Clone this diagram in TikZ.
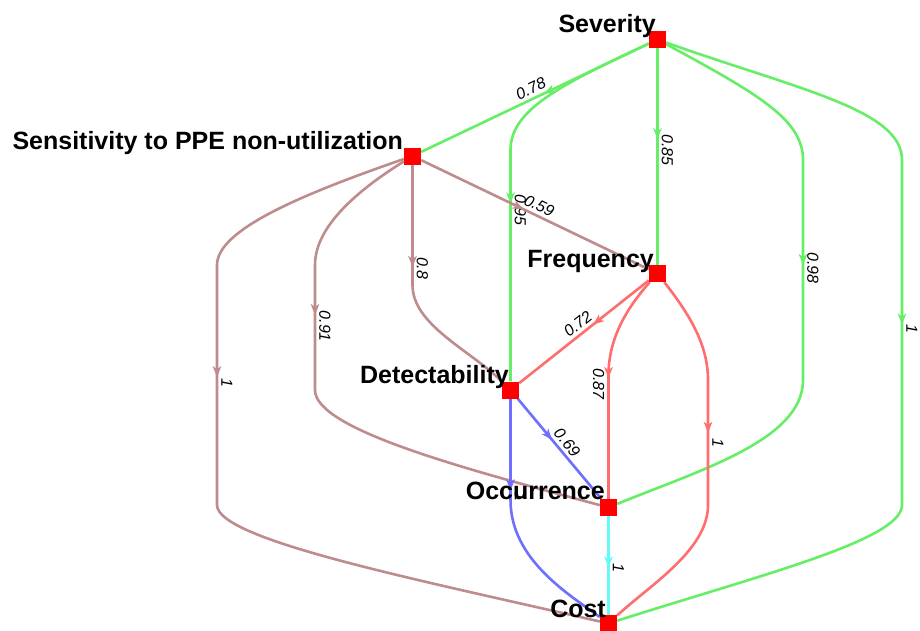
\documentclass[tikz,border=0pt]{standalone}
\usepackage{fontspec}
\setmainfont{Liberation Sans}
\usetikzlibrary{arrows.meta,decorations.markings,backgrounds}
\definecolor{egreen}{RGB}{102,238,102}
\definecolor{ebrown}{RGB}{190,140,140}
\definecolor{ered}{RGB}{255,110,110}
\definecolor{eblue}{RGB}{110,110,255}
\definecolor{ecyan}{RGB}{100,250,250}
\pgfdeclarelayer{bg}
\pgfsetlayers{bg,background,main}
\begin{document}
\begin{tikzpicture}[x=1pt,y=-1pt,
  sq/.style={fill=red, minimum size=17pt, inner sep=0pt, draw=none},
  nlab/.style={font=\fontsize{25}{30}\selectfont\bfseries, inner sep=0pt, text=black},
  elab/.style={sloped, above, font=\fontsize{16}{19}\selectfont\itshape, inner sep=3pt, text=black},
  conn/.style={line width=2.6pt},
  arrowat/.style={postaction={decorate,decoration={markings,mark=at position #1 with {\arrow{Stealth[length=11pt,width=8.5pt,inset=3pt]}}}}}
]
\useasboundingbox (0,0) rectangle (920,630);
\begin{pgfonlayer}{bg}
\fill[white] (0,0) rectangle (920,630);
\end{pgfonlayer}

% nodes
\node[sq] (sev)  at (657.5,39.5) {};
\node[sq] (sens) at (412.5,156) {};
\node[sq] (freq) at (657.5,273.5) {};
\node[sq] (det)  at (510.5,390) {};
\node[sq] (occ)  at (608.5,507.5) {};
\node[sq] (cost) at (608.5,623.5) {};

% node labels
\node[nlab, anchor=base east] (tsev)  at (656,32)  {Severity};
\node[nlab, anchor=base east] (tsens) at (403,149) {Sensitivity to PPE non-utilization};
\node[nlab, anchor=base east] (tfreq) at (654,267) {Frequency};
\node[nlab, anchor=base east] (tdet)  at (509,383) {Detectability};
\node[nlab, anchor=base east] (tocc)  at (605,499) {Occurrence};
\node[nlab, anchor=base east] (tcost) at (606,617) {Cost};

\begin{scope}[on background layer]
% green edges (from Severity)
\draw[conn, egreen, arrowat=0.46] (sev) -- node[elab, pos=0.5]{0.78} (sens);
\draw[conn, egreen, arrowat=0.42] (sev) -- node[elab, pos=0.47]{0.85} (freq);
\draw[conn, egreen, arrowat=0.57] (sev) .. controls (560,85) and (510.5,110) .. (510.5,150) -- node[elab,pos=0.26]{0.95} (det);
\draw[conn, egreen, arrowat=0.455] (sev) .. controls (760,95) and (803,120) .. (803,160) -- node[elab,pos=0.49]{0.98} (803,380) .. controls (803,440) and (700,470) .. (occ);
\draw[conn, egreen, arrowat=0.47] (sev) .. controls (800,90) and (902,110) .. (902,160) -- node[elab,pos=0.49]{1} (902,505) .. controls (902,540) and (760,575) .. (cost);
% brown edges (from Sensitivity)
\draw[conn, ebrown, arrowat=0.45] (sens) -- node[elab,pos=0.5]{0.59} (freq);
\draw[conn, ebrown, arrowat=0.40] (sens) -- node[elab,pos=0.86]{0.8} (412.5,285) .. controls (412.5,325) and (470,350) .. (det);
\draw[conn, ebrown, arrowat=0.33] (sens) .. controls (350,195) and (315,230) .. (315,265) -- node[elab,pos=0.49]{0.91} (315,390) .. controls (315,430) and (470,470) .. (occ);
\draw[conn, ebrown, arrowat=0.385] (sens) .. controls (300,195) and (217,230) .. (217,265) -- node[elab,pos=0.49]{1} (217,505) .. controls (217,540) and (420,580) .. (cost);
% red edges (from Frequency)
\draw[conn, ered, arrowat=0.43] (freq) -- node[elab,pos=0.5]{0.72} (det);
\draw[conn, ered, arrowat=0.47] (freq) .. controls (625,310) and (608.5,340) .. (608.5,375) -- node[elab,pos=0.07,below]{0.87} (occ);
\draw[conn, ered, arrowat=0.425] (freq) .. controls (690,315) and (708,345) .. (708,380) -- node[elab,pos=0.5]{1} (708,505) .. controls (708,550) and (650,585) .. (cost);
% blue edges (from Detectability)
\draw[conn, eblue, arrowat=0.41] (det) -- node[elab,pos=0.5]{0.69} (occ);
\draw[conn, eblue, arrowat=0.36] (det) -- node[elab,pos=0.97]{1} (510.5,500) .. controls (510.5,560) and (570,595) .. (cost);
% cyan edge
\draw[conn, ecyan, arrowat=0.52] (occ) -- node[elab,pos=0.52]{1} (cost);
\end{scope}
\end{tikzpicture}
\end{document}
